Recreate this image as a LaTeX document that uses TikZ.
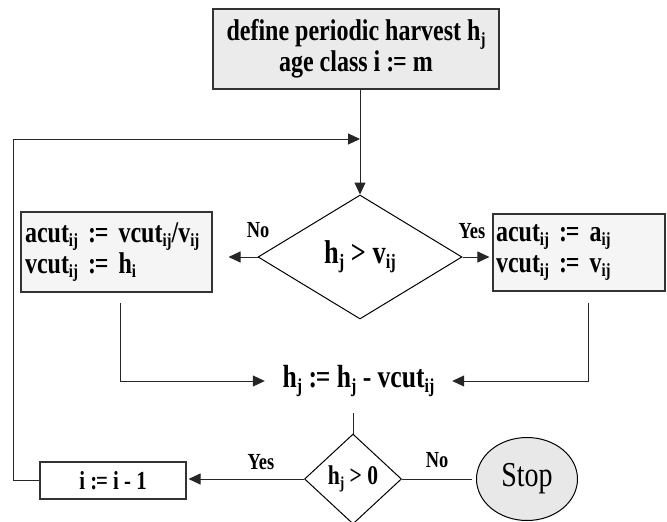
\documentclass[tikz,border=0pt]{standalone}
\usepackage{fontspec}
\setmainfont{Liberation Serif}[FakeStretch=0.8]
\usetikzlibrary{arrows.meta,shapes.geometric}
\newcommand\sbs[1]{\raisebox{-0.16em}{\scalebox{0.62}{#1}}}
\newcommand\asg{:\kern-0.04em=}
\begin{document}
\begin{tikzpicture}[x=1pt,y=-1pt,
  line/.style={line width=1pt, draw=black!85},
  arr/.style={line, -{Triangle[length=12pt,width=11pt]}},
  bigfont/.style={font=\fontsize{30}{31}\selectfont\bfseries},
  box/.style={draw=black!80, line width=1.1pt, inner sep=0pt, bigfont},
  dia/.style={draw=black, line width=1pt, diamond, inner sep=0pt},
  lbl/.style={inner sep=0pt, font=\fontsize{23}{23}\selectfont\bfseries}
]
\useasboundingbox (0,0) rectangle (667,522);

\node[box, fill=black!8, minimum width=286pt, minimum height=80pt, align=center] (top) at (356,49)
  {define periodic harvest h\sbs{j}\\age class i \asg{} m};

\node[dia, font=\fontsize{33}{33}\selectfont\bfseries, minimum width=204pt, minimum height=124pt] (d1) at (360,257) {h\sbs{j} > v\sbs{ij}};

\node[box, fill=black!4, minimum width=191pt, minimum height=80pt, text width=183pt, align=left] (lb) at (116.5,252)
  {\mbox{acut\sbs{ij} \asg{} vcut\sbs{ij}/v\sbs{ij}}\\\mbox{vcut\sbs{ij} \asg{} h\sbs{i}}};
\node[box, fill=black!4, minimum width=172pt, minimum height=77pt, text width=166pt, align=left] (rb) at (579,252.5)
  {\mbox{acut\sbs{ij} \asg{} a\sbs{ij}}\\\mbox{vcut\sbs{ij} \asg{} v\sbs{ij}}};

\node[inner sep=0pt, minimum width=187pt, minimum height=30pt, font=\fontsize{32}{32}\selectfont\bfseries] (m) at (358.5,381)
  {h\sbs{j} \asg{} h\sbs{j} - vcut\sbs{ij}};

\node[dia, minimum width=97pt, minimum height=90pt, font=\fontsize{27}{27}\selectfont\bfseries] (d2) at (353,479) {h\sbs{j} > 0};

\node[box, fill=white, minimum width=146pt, minimum height=37pt, font=\fontsize{26}{26}\selectfont\bfseries] (ib) at (113,480.5) {i \asg{} i - 1};

\node[ellipse, draw=black, line width=1pt, fill=black!9, minimum width=101pt, minimum height=83pt, inner sep=0pt,
  font=\fontsize{35}{35}\selectfont] (stop) at (527,479) {Stop};

\node[lbl] (no1) at (258,230) {No};
\node[lbl] (yes1) at (472,231) {Yes};
\node[lbl] (yes2) at (261,462) {Yes};
\node[lbl] (no2) at (437,460) {No};

\coordinate (lcorner) at (13,139);
\path (d1.north |- lcorner) coordinate (join);
\path (m.south) ++(0,16) coordinate (mtail);

\draw[arr] (top.south -| d1.north) -- (d1.north);
\draw[arr] (ib.west) -| (lcorner) -- (join);
\draw[arr, shorten >=16pt] (d1.west) -- (lb.east |- d1.west);
\draw[arr, shorten >=3pt] (d1.east) -- (rb.west |- d1.east);
\draw[arr] ([xshift=3.5pt,yshift=-10pt]lb.south) |- (m.west);
\draw[arr] ([xshift=9pt,yshift=-11pt]rb.south) |- (m.east);
\draw[line] (mtail -| d2.north) -- (d2.north);
\draw[arr, shorten >=2pt] (d2.west) -- (ib.east |- d2.west);
\draw[line, shorten >=4pt] (d2.east) -- (stop.west);
\end{tikzpicture}
\end{document}
